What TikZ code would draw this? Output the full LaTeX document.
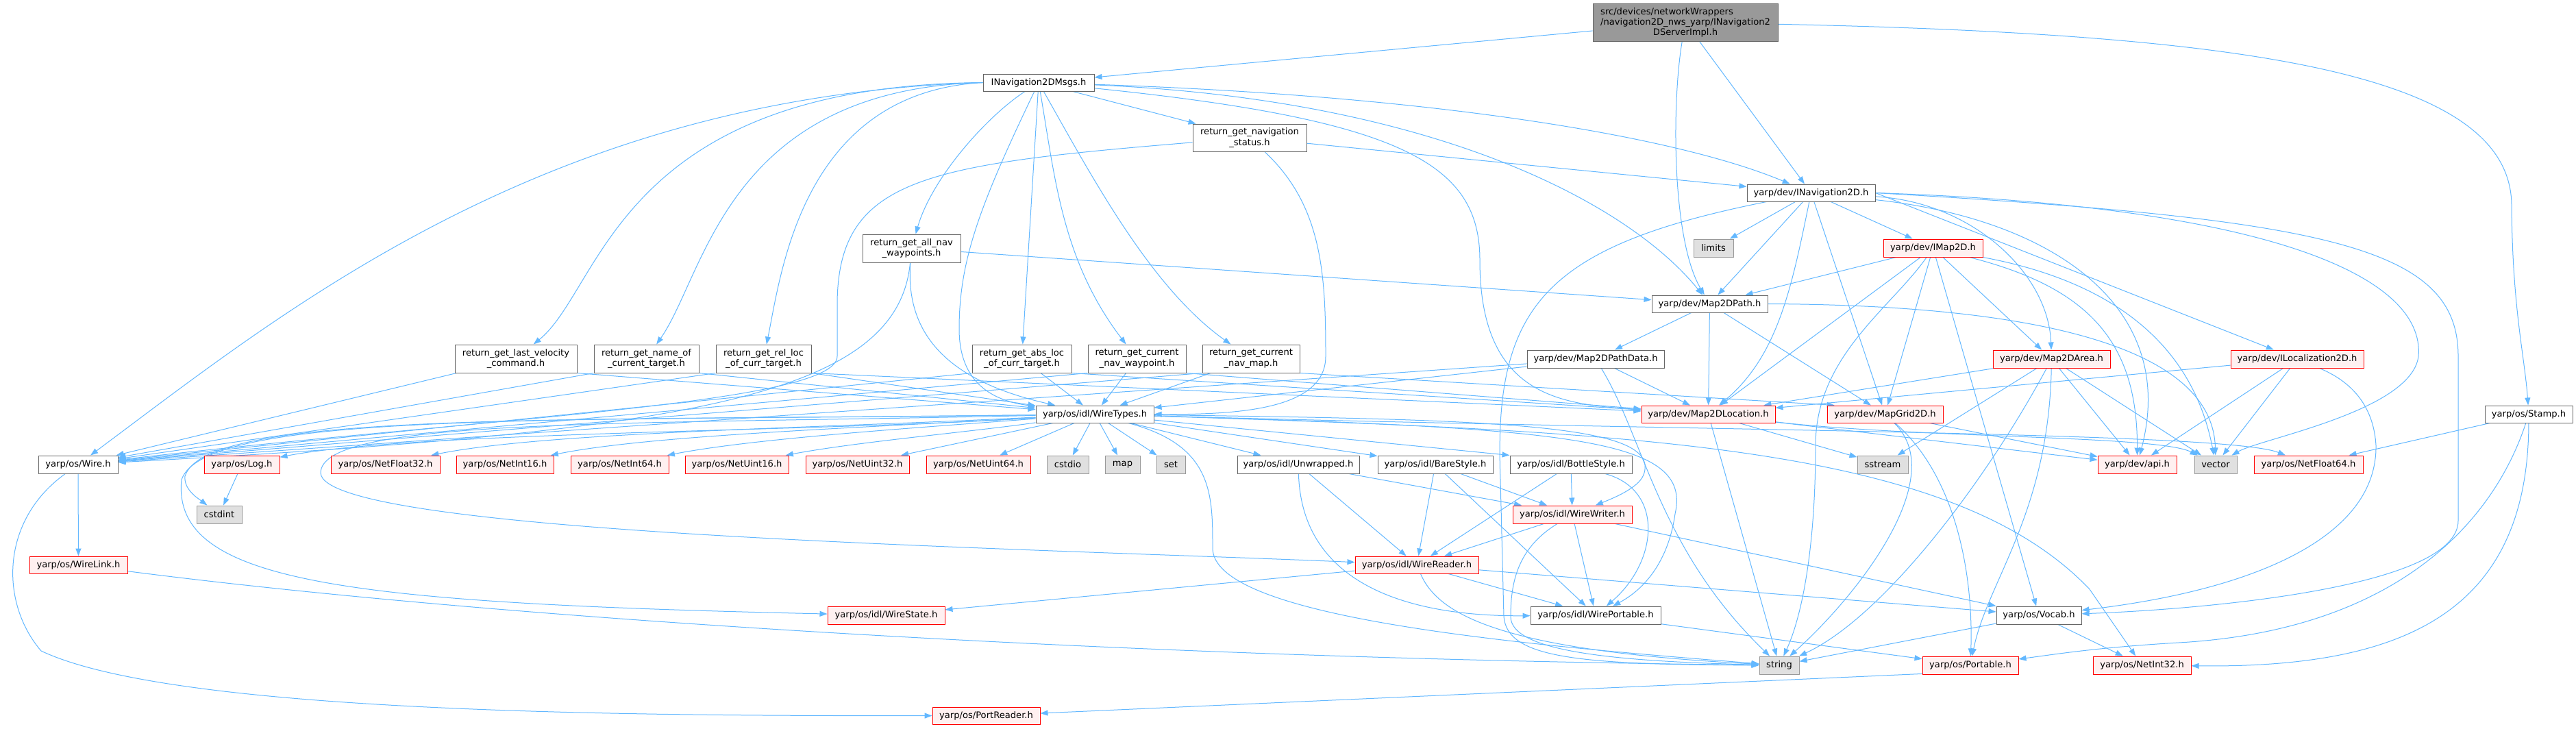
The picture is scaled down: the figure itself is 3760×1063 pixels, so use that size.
\documentclass[tikz,border=0pt]{standalone}
\usepackage{fontspec}
\setmainfont{DejaVu Sans}
\usetikzlibrary{arrows.meta}
\definecolor{edgec}{HTML}{63B8FF}
\definecolor{nbord}{HTML}{666666}
\definecolor{rbord}{HTML}{FF0000}
\definecolor{rfill}{HTML}{FFF0F0}
\definecolor{sbord}{HTML}{999999}
\definecolor{sfill}{HTML}{E0E0E0}
\definecolor{rootfill}{HTML}{999999}
\newcommand\nodefont{\fontsize{13.1}{15.3}\selectfont}
\pgfdeclarelayer{edgelayer}
\pgfsetlayers{edgelayer,main}
\tikzset{
  nodebase/.style={rectangle, inner sep=0pt, line width=1pt, font=\nodefont, align=center},
  nb/.style={nodebase, draw=nbord, fill=white},
  rb/.style={nodebase, draw=rbord, fill=rfill},
  sb/.style={nodebase, draw=sbord, fill=sfill},
  rootb/.style={nodebase, draw=nbord, fill=rootfill},
  edge/.style={draw=edgec, line width=1pt, -{Triangle[length=11pt,width=8pt]}},
}
\begin{document}
\begin{tikzpicture}[x=1pt,y=-1pt]
\useasboundingbox (0,0) rectangle (3760,1063);
% ---------------- nodes ----------------
\node[rootb, minimum width=270pt, minimum height=55pt] (src) at (2460,32.5) {\begin{tabular}{@{}l@{}}src/devices/networkWrappers\\/navigation2D\_nws\_yarp/INavigation2\end{tabular}\\DServerImpl.h};
\node[nb, minimum width=162pt, minimum height=25pt] (msgs) at (1516,120.5) {INavigation2DMsgs.h};
\node[nb, minimum width=166pt, minimum height=40pt] (rstatus) at (1824,201) {return\_get\_navigation\\\_status.h};
\node[nb, minimum width=187pt, minimum height=25pt] (inav) at (2643.5,281.5) {yarp/dev/INavigation2D.h};
\node[nb, minimum width=143pt, minimum height=41pt] (rallwp) at (1330.5,362.5) {return\_get\_all\_nav\\\_waypoints.h};
\node[sb, minimum width=58pt, minimum height=26pt] (limits) at (2501,362) {limits};
\node[rb, minimum width=145pt, minimum height=26pt] (imap) at (2821.5,362) {yarp/dev/IMap2D.h};
\node[nb, minimum width=169pt, minimum height=25pt] (path) at (2495.5,443.5) {yarp/dev/Map2DPath.h};
\node[nb, minimum width=178pt, minimum height=41pt] (rvel) at (753,523.5) {return\_get\_last\_velocity\\\_command.h};
\node[nb, minimum width=153pt, minimum height=41pt] (rname) at (943.5,523.5) {return\_get\_name\_of\\\_current\_target.h};
\node[nb, minimum width=139pt, minimum height=41pt] (rrel) at (1114.5,523.5) {return\_get\_rel\_loc\\\_of\_curr\_target.h};
\node[nb, minimum width=145pt, minimum height=41pt] (rabs) at (1491.5,523.5) {return\_get\_abs\_loc\\\_of\_curr\_target.h};
\node[nb, minimum width=143pt, minimum height=41pt] (rcwp) at (1659.5,523.5) {return\_get\_current\\\_nav\_waypoint.h};
\node[nb, minimum width=142pt, minimum height=41pt] (rcmap) at (1826,523.5) {return\_get\_current\\\_nav\_map.h};
\node[nb, minimum width=200pt, minimum height=26pt] (pathdata) at (2329,524) {yarp/dev/Map2DPathData.h};
\node[rb, minimum width=171pt, minimum height=26pt] (area) at (2994.5,524) {yarp/dev/Map2DArea.h};
\node[rb, minimum width=194pt, minimum height=26pt] (iloc) at (3353,524) {yarp/dev/ILocalization2D.h};
\node[nb, minimum width=172pt, minimum height=25pt] (wt) at (1598,604.5) {yarp/os/idl/WireTypes.h};
\node[rb, minimum width=195pt, minimum height=25pt] (loc) at (2493.5,604.5) {yarp/dev/Map2DLocation.h};
\node[rb, minimum width=169pt, minimum height=25pt] (grid) at (2751.5,604.5) {yarp/dev/MapGrid2D.h};
\node[nb, minimum width=128pt, minimum height=25pt] (stamp) at (3691,604.5) {yarp/os/Stamp.h};
\node[nb, minimum width=116pt, minimum height=26pt] (wire) at (114,678) {yarp/os/Wire.h};
\node[rb, minimum width=110pt, minimum height=26pt] (log) at (353,678) {yarp/os/Log.h};
\node[rb, minimum width=159pt, minimum height=26pt] (nf32) at (562.5,678) {yarp/os/NetFloat32.h};
\node[rb, minimum width=142pt, minimum height=26pt] (ni16) at (737,678) {yarp/os/NetInt16.h};
\node[rb, minimum width=143pt, minimum height=26pt] (ni64) at (904.5,678) {yarp/os/NetInt64.h};
\node[rb, minimum width=151pt, minimum height=26pt] (nu16) at (1075.5,678) {yarp/os/NetUint16.h};
\node[rb, minimum width=151pt, minimum height=26pt] (nu32) at (1251.5,678) {yarp/os/NetUint32.h};
\node[rb, minimum width=152pt, minimum height=26pt] (nu64) at (1428,678) {yarp/os/NetUint64.h};
\node[sb, minimum width=61pt, minimum height=26pt] (cstdio) at (1558.5,678) {cstdio};
\node[sb, minimum width=51pt, minimum height=26pt] (map) at (1638.5,678) {map};
\node[sb, minimum width=42pt, minimum height=26pt] (set) at (1709,678) {set};
\node[nb, minimum width=178pt, minimum height=26pt] (unwr) at (1895,678) {yarp/os/idl/Unwrapped.h};
\node[nb, minimum width=168pt, minimum height=26pt] (bare) at (2095,678) {yarp/os/idl/BareStyle.h};
\node[nb, minimum width=178pt, minimum height=26pt] (bottle) at (2293,678) {yarp/os/idl/BottleStyle.h};
\node[sb, minimum width=74pt, minimum height=26pt] (sstream) at (2748,678) {sstream};
\node[rb, minimum width=115pt, minimum height=26pt] (api) at (3119.5,678) {yarp/dev/api.h};
\node[sb, minimum width=62pt, minimum height=26pt] (vector) at (3234,678) {vector};
\node[rb, minimum width=159pt, minimum height=26pt] (nf64) at (3369.5,678) {yarp/os/NetFloat64.h};
\node[sb, minimum width=66pt, minimum height=26pt] (cstdint) at (320,751) {cstdint};
\node[rb, minimum width=174pt, minimum height=26pt] (wwriter) at (2295,751) {yarp/os/idl/WireWriter.h};
\node[rb, minimum width=143pt, minimum height=25pt] (wlink) at (114.5,824.5) {yarp/os/WireLink.h};
\node[rb, minimum width=180pt, minimum height=25pt] (wreader) at (2068,824.5) {yarp/os/idl/WireReader.h};
\node[rb, minimum width=171pt, minimum height=26pt] (wstate) at (1293.5,898) {yarp/os/idl/WireState.h};
\node[nb, minimum width=190pt, minimum height=26pt] (wport) at (2329,898) {yarp/os/idl/WirePortable.h};
\node[nb, minimum width=124pt, minimum height=26pt] (vocab) at (2976,898) {yarp/os/Vocab.h};
\node[sb, minimum width=58pt, minimum height=26pt] (string) at (2597,971) {string};
\node[rb, minimum width=140pt, minimum height=26pt] (portable) at (2876,971) {yarp/os/Portable.h};
\node[rb, minimum width=143pt, minimum height=26pt] (ni32) at (3126.5,971) {yarp/os/NetInt32.h};
\node[rb, minimum width=157pt, minimum height=25pt] (preader) at (1439.5,1044.5) {yarp/os/PortReader.h};
% ---------------- edges ----------------
\begin{pgfonlayer}{edgelayer}
\fill[white] (0,0) rectangle (3760,1063);
% src
\draw[edge] (src) -- (msgs);
\draw[edge] (src) -- (inav);
\draw[edge] (src) .. controls (2440,150) and (2440,350) .. (path);
\draw[edge] (src) .. controls (3300,50) and (3665,110) .. (3666,300) .. controls (3667,450) and (3685,520) .. (stamp);
% INavigation2DMsgs
\draw[edge] (msgs) -- (rstatus);
\draw[edge] (msgs) .. controls (2100,140) and (2450,200) .. (inav);
\draw[edge] (msgs) .. controls (2100,145) and (2380,300) .. (path);
\draw[edge] (msgs) .. controls (2050,175) and (2160,240) .. (2160,380) .. controls (2160,580) and (2280,590) .. (loc);
\draw[edge] (msgs) .. controls (1430,300) and (1400,380) .. (1400,480) .. controls (1400,560) and (1450,585) .. (wt);
\draw[edge] (msgs.west) .. controls (800,140) and (420,450) .. (wire);
\draw[edge] (msgs.west) .. controls (900,125) and (880,420) .. (rvel);
\draw[edge] (msgs.west) .. controls (1060,130) and (1030,400) .. (rname);
\draw[edge] (msgs.west) .. controls (1170,135) and (1140,400) .. (rrel);
\draw[edge] (msgs) .. controls (1440,170) and (1360,260) .. (rallwp);
\draw[edge] (msgs) -- (rabs);
\draw[edge] (msgs) .. controls (1540,260) and (1550,380) .. (rcwp);
\draw[edge] (msgs) .. controls (1595,260) and (1680,420) .. (rcmap);
% return_get_navigation_status
\draw[edge] (rstatus) -- (inav);
\draw[edge] (rstatus) .. controls (1350,240) and (1225,260) .. (1222,440) -- (1222,520) .. controls (1222,590) and (700,610) .. (wire);
\draw[edge] (rstatus) .. controls (1930,300) and (1935,400) .. (1935,520) .. controls (1935,600) and (1800,605) .. (wt);
% return_get_all_nav_waypoints
\draw[edge] (rallwp) .. controls (1310,580) and (1000,630) .. (wire);
\draw[edge] (rallwp) .. controls (1320,500) and (1400,560) .. (wt);
\draw[edge] (rallwp) -- (path);
% other return_* nodes
\draw[edge] (rvel) -- (wire);
\draw[edge] (rvel.south east) -- (wt);
\draw[edge] (rname.south west) -- (wire);
\draw[edge] (rname.south east) -- (wt);
\draw[edge] (rrel.south west) -- (wire);
\draw[edge] (rrel.south east) -- (wt);
\draw[edge] (rrel.south east) -- (loc);
\draw[edge] (rabs.south west) -- (wire);
\draw[edge] (rabs) -- (wt);
\draw[edge] (rabs.south east) -- (loc);
\draw[edge] (rcwp.south west) -- (wire);
\draw[edge] (rcwp) -- (wt);
\draw[edge] (rcwp.south east) -- (loc);
\draw[edge] (rcmap.south west) -- (wire);
\draw[edge] (rcmap) -- (wt);
\draw[edge] (rcmap.south east) -- (grid.170);
% INavigation2D
\draw[edge] (inav) -- (limits);
\draw[edge] (inav) -- (imap);
\draw[edge] (inav) -- (path);
\draw[edge] (inav) .. controls (2615,420) and (2595,520) .. (loc);
\draw[edge] (inav) -- (grid);
\draw[edge] (inav) .. controls (2880,295) and (2990,400) .. (area);
\draw[edge] (inav.east) -- (iloc);
\draw[edge] (inav.east) .. controls (3300,300) and (3540,400) .. (3530,520) .. controls (3520,600) and (3300,640) .. (vector);
\draw[edge] (inav.east) .. controls (3400,320) and (3588,360) .. (3588,520) -- (3588,760) .. controls (3588,860) and (3200,890) .. (vocab);
\draw[edge] (inav) .. controls (3000,320) and (3180,450) .. (api);
\draw[edge] (inav) .. controls (2250,360) and (2180,450) .. (2190,700) -- (2195,900) .. controls (2200,960) and (2300,970) .. (string);
% IMap2D
\draw[edge] (imap) -- (path);
\draw[edge] (imap) -- (loc);
\draw[edge] (imap) -- (grid);
\draw[edge] (imap) -- (area);
\draw[edge] (imap) .. controls (3050,420) and (3120,500) .. (api);
\draw[edge] (imap) .. controls (3080,410) and (3200,500) .. (vector);
\draw[edge] (imap) .. controls (2760,450) and (2650,520) .. (2650,650) .. controls (2650,800) and (2630,900) .. (string);
\draw[edge] (imap) -- (vocab);
% Map2DPath
\draw[edge] (path) -- (pathdata);
\draw[edge] (path) -- (loc);
\draw[edge] (path) -- (grid);
\draw[edge] (path.east) .. controls (2950,445) and (3230,500) .. (vector);
% Map2DPathData
\draw[edge] (pathdata) -- (wire);
\draw[edge] (pathdata) -- (wt);
\draw[edge] (pathdata) -- (loc);
\draw[edge] (pathdata) .. controls (2400,640) and (2420,800) .. (string);
% Map2DArea
\draw[edge] (area) -- (loc);
\draw[edge] (area) -- (api);
\draw[edge] (area) -- (vector);
\draw[edge] (area) -- (sstream);
\draw[edge] (area) .. controls (2900,700) and (2750,900) .. (string);
\draw[edge] (area) .. controls (2990,750) and (2900,850) .. (portable);
% ILocalization2D
\draw[edge] (iloc) -- (loc);
\draw[edge] (iloc) -- (api);
\draw[edge] (iloc) -- (vector);
\draw[edge] (iloc) .. controls (3440,560) and (3465,600) .. (3468,650) .. controls (3470,780) and (3300,860) .. (vocab);
% Map2DLocation
\draw[edge] (loc) -- (api);
\draw[edge] (loc) -- (sstream);
\draw[edge] (loc) -- (string);
\draw[edge] (loc) .. controls (2800,640) and (3150,635) .. (vector);
% MapGrid2D
\draw[edge] (grid) -- (api);
\draw[edge] (grid) .. controls (2850,700) and (2700,880) .. (string);
\draw[edge] (grid) .. controls (2860,700) and (2880,850) .. (portable);
% Stamp
\draw[edge] (stamp) -- (nf64);
\draw[edge] (stamp) .. controls (3640,760) and (3500,920) .. (3180,938) .. controls (3060,945) and (3000,955) .. (portable);
\draw[edge] (stamp) .. controls (3690,900) and (3500,975) .. (ni32);
% WireTypes
\draw[edge] (wt) .. controls (1200,630) and (600,630) .. (log);
\draw[edge] (wt) .. controls (1200,625) and (800,630) .. (nf32);
\draw[edge] (wt) .. controls (1250,625) and (950,635) .. (ni16);
\draw[edge] (wt) .. controls (1330,625) and (1100,640) .. (ni64);
\draw[edge] (wt) .. controls (1420,630) and (1250,645) .. (nu16);
\draw[edge] (wt) -- (nu32);
\draw[edge] (wt) -- (nu64);
\draw[edge] (wt) -- (cstdio);
\draw[edge] (wt) -- (map);
\draw[edge] (wt) -- (set);
\draw[edge] (wt) -- (unwr);
\draw[edge] (wt) -- (bare);
\draw[edge] (wt) -- (bottle.north west);
\draw[edge] (wt) .. controls (800,615) and (300,600) .. (265,700) .. controls (250,850) and (500,880) .. (wstate);
\draw[edge] (wt) .. controls (800,615) and (300,600) .. (270,695) .. controls (268,715) and (290,728) .. (cstdint);
\draw[edge] (wt) .. controls (900,620) and (470,610) .. (468,690) .. controls (470,780) and (1500,800) .. (wreader);
\draw[edge] (wt) .. controls (2200,612) and (2420,620) .. (2400,690) .. controls (2395,710) and (2360,725) .. (wwriter);
\draw[edge] (wt) .. controls (2300,625) and (2470,640) .. (2445,750) .. controls (2435,820) and (2400,860) .. (wport);
\draw[edge] (wt) .. controls (1770,650) and (1770,720) .. (1770,800) .. controls (1770,900) and (2200,940) .. (string);
\draw[edge] (wt) .. controls (2500,630) and (3250,630) .. (nf64);
\draw[edge] (wt) .. controls (2400,630) and (2850,650) .. (3050,860) -- (ni32);
% Wire, Log, WireLink
\draw[edge] (wire) -- (wlink);
\draw[edge] (wire) .. controls (0,760) and (0,880) .. (60,950) .. controls (250,1040) and (900,1045) .. (preader);
\draw[edge] (log) -- (cstdint);
\draw[edge] (wlink) .. controls (700,900) and (1600,960) .. (string);
% idl styles
\draw[edge] (unwr) -- (wreader);
\draw[edge] (unwr) -- (wwriter);
\draw[edge] (unwr) .. controls (1900,850) and (2050,900) .. (wport);
\draw[edge] (bare) -- (wreader);
\draw[edge] (bare) -- (wwriter);
\draw[edge] (bare) -- (wport);
\draw[edge] (bottle) -- (wreader);
\draw[edge] (bottle) -- (wwriter);
\draw[edge] (bottle) .. controls (2430,715) and (2420,820) .. (wport);
% WireWriter, WireReader
\draw[edge] (wwriter) -- (wreader);
\draw[edge] (wwriter) -- (wport);
\draw[edge] (wwriter) .. controls (2215,800) and (2205,850) .. (2205,900) .. controls (2205,950) and (2350,965) .. (string);
\draw[edge] (wwriter) -- (vocab);
\draw[edge] (wreader) -- (wstate);
\draw[edge] (wreader) -- (wport);
\draw[edge] (wreader) .. controls (2100,900) and (2200,950) .. (string);
\draw[edge] (wreader) -- (vocab);
% bottom
\draw[edge] (wport) -- (portable);
\draw[edge] (vocab) -- (string);
\draw[edge] (vocab) -- (ni32);
\draw[edge] (portable.190) -- (preader);
\end{pgfonlayer}
\end{tikzpicture}
\end{document}
